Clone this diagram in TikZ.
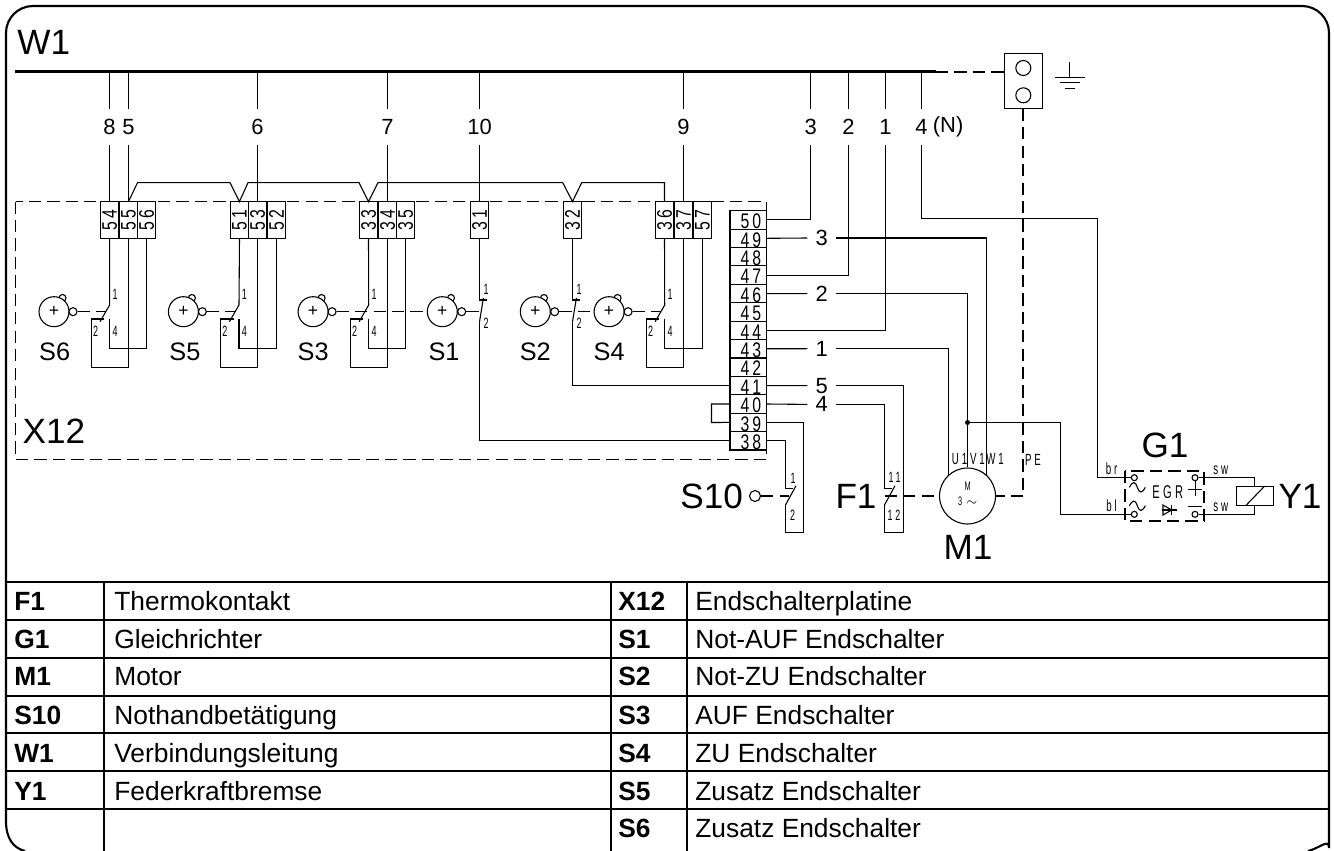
\documentclass[tikz,border=0pt]{standalone}
\usepackage{fontspec}
\setmainfont{Liberation Sans}
\newfontfamily\cadfont[FakeStretch=0.75,LetterSpace=14]{Liberation Sans}
\newfontfamily\narrowfont[FakeStretch=0.6,LetterSpace=18]{Liberation Sans}
\tikzset{
    wire/.style={line width=0.62pt},
    hairdash/.style={line width=0.62pt,dash pattern=on 7pt off 3.5pt},
    thickdash/.style={line width=1pt,dash pattern=on 7pt off 3.5pt},
    frameline/.style={line width=1.2pt},
    tabline/.style={line width=1.1pt},
    bigtext/.style={inner sep=0pt,font=\fontsize{20}{22}\selectfont},
    midtext/.style={inner sep=0pt,font=\fontsize{14.4}{16}\selectfont},
    wirenum/.style={inner sep=0pt,minimum height=0.72cm,font=\fontsize{12.5}{14}\selectfont},
    rownum/.style={inner sep=0pt,minimum width=0.56cm,font=\fontsize{12.5}{14}\selectfont},
    tinytext/.style={inner sep=0pt,font=\fontsize{8.5}{9}\narrowfont},
    cadtext/.style={inner sep=0pt,font=\fontsize{9.2}{11}\narrowfont},
    termv/.style={draw,wire,fill=white,inner sep=0pt,outer sep=0pt,minimum width=0.37cm,minimum height=0.73cm,font=\fontsize{12}{13}\cadfont},
    termh/.style={draw,wire,fill=white,inner sep=0pt,outer sep=0pt,minimum width=0.734cm,minimum height=0.368cm,text height=10pt,text depth=0pt,font=\fontsize{12}{13}\cadfont},
    cam/.style={draw,wire,circle,fill=white,inner sep=0pt,minimum size=0.6cm,font=\fontsize{10}{10}\selectfont},
    campin/.style={draw,wire,circle,fill=white,inner sep=0pt,minimum size=0.16cm},
    tappin/.style={draw,wire,circle,fill=white,inner sep=0pt,minimum size=0.12cm},
    tabkey/.style={inner sep=0pt,anchor=base west,font=\fontsize{15}{17}\bfseries},
    tabtxt/.style={inner sep=0pt,anchor=base west,font=\fontsize{15}{17}\selectfont}
}
\begin{document}
\begin{tikzpicture}[x=0.02cm,y=-0.02cm]
        \useasboundingbox (0,0) rectangle (1334,851);
        %% frame, open at the lower edge
        \draw[frameline] (25,851) .. controls (13,848) and (6,838) .. (6,821)
            [rounded corners=0.54cm] -- (6,6) -- (1329,6) -- (1329,821)
            [sharp corners] .. controls (1329,838) and (1320,848) .. (1308,851);
        %% bus
        \coordinate (bus) at (15,71.7);
        \coordinate (busend) at (936,71.7);
        \draw[line width=1.4pt] (bus) -- (busend);
        \node[bigtext,anchor=west] (W1) at (17,42) {W1};
        %% earth terminal
        \node[draw,wire,inner sep=0pt,outer sep=0pt,minimum width=0.76cm,minimum height=1.11cm] (pe) at (1023.3,81) {};
        \node[draw,wire,circle,inner sep=0pt,minimum size=0.3cm] (pea) at (1023.3,68) {};
        \node[draw,wire,circle,inner sep=0pt,minimum size=0.3cm] (peb) at (1023.3,95.3) {};
        \draw[thickdash] (busend) -- (busend -| pe.west);
        \coordinate (gnd) at (1069.7,77.5);
        \draw[wire] (gnd) -- ++(0,-15);
        \draw[wire] (gnd) ++(-15,0) -- ++(30,0);
        \draw[wire] (gnd) ++(-10,4.7) -- ++(20,0);
        \draw[wire] (gnd) ++(-5,11.2) -- ++(10,0);
        %% X12
        \draw[hairdash] (15.5,201.5) rectangle (766.7,459.3);
        \node[bigtext] (X12) at (54,431) {X12};
        \foreach \n/\x in {54/109.6,55/128.5,56/146.5,51/239.5,53/257.5,52/276.5,33/368.5,34/387.5,35/405.5,31/479.5,32/572.5,36/664.5,37/683.5,57/702.5}
            \node[termv] (t\n) at (\x,219.8) {\rotatebox{90}{\n}};
        \foreach \n [count=\i from 0] in {50,49,48,47,46,45,44,43,42,41,40,39,38} {
            \pgfmathsetmacro{\yy}{219.9+18.41*\i}
            \node[termh] (t\n) at (748.3,\yy) {\kern3pt\n};
        }
        %% bridge over the blocks
        \draw[wire] (t55.north) -- (137.5,182.7) -- (230,182.7) -- (t51.north) -- (248,182.7) -- (359,182.7)
            -- (t33.north) -- (378,182.7) -- (562.7,182.7) -- (t32.north) -- (581.7,182.7) -- (664.5,182.7) -- (t36.north);
        %% leads from the bus
        \foreach \x/\w/\t in {109.6/8/54,128.5/5/55,257.5/6/53,387.5/7/34,479.5/10/31,683.5/9/37} {
            \node[wirenum] (w\w) at (\x,127) {\w};
            \draw[wire] (w\w.north) -- (w\w.north |- bus);
            \draw[wire] (w\w.south) -- (t\t.north);
        }
        \foreach \x/\w/\t in {810.7/3/50,848.5/2/47,885.5/1/44} {
            \node[wirenum] (w\w) at (\x,127) {\w};
            \draw[wire] (w\w.north) -- (w\w.north |- bus);
            \draw[wire] (w\w.south) |- (t\t.east);
        }
        \node[wirenum] (wN) at (921.5,127) {4};
        \node[wirenum,anchor=west] (wNb) at (932.5,127) {(N)};
        \draw[wire] (wN.north) -- (wN.north |- bus);
        %% changeover switches
        \foreach \dx/\sw/\ta/\tb/\tc/\lx in {0/S6/54/55/56/54.7,129.4/S5/51/53/52/55.5,259.1/S3/33/34/35/54,555.1/S4/36/37/57/54} {
            \begin{scope}[xshift=\dx*0.02cm]
                \draw[wire] (62.5,298) circle (3.5);
                \node[cam] (cam\sw) at (54,311.7) {+};
                \node[campin] (pin\sw) at (73,311.7) {};
                \node[midtext] (name\sw) at (\lx,352) {\sw};
                \coordinate (com\sw) at (109.6,305);
                \coordinate (nc\sw) at (104.3,319);
                \coordinate (no\sw) at (109.6,319);
                \coordinate (mid\sw) at (106,311.7);
                \draw[wire] (t\ta.south) -- (com\sw) -- ++(-9.6,16.7);
                \draw[wire] (t\tb.south) |- (91.5,367.5) |- (nc\sw);
                \draw[wire] (t\tc.south) |- (no\sw |- 0,348.5) -- (no\sw);
                \node[tinytext] (one\sw) at (115,294) {1};
                \node[tinytext] (two\sw) at (95.5,331) {2};
                \node[tinytext] (four\sw) at (115,331) {4};
            \end{scope}
        }
        %% break contacts
        \foreach \dx/\sw/\ta/\lx in {0/S1/31/444,93/S2/32/442.3} {
            \begin{scope}[xshift=\dx*0.02cm]
                \draw[wire] (451,298) circle (3.5);
                \node[cam] (cam\sw) at (442.3,311.7) {+};
                \node[campin] (pin\sw) at (461.7,311.7) {};
                \node[midtext] (name\sw) at (\lx,352) {\sw};
                \coordinate (com\sw) at (479.5,300);
                \coordinate (nc\sw) at (479.5,321.7);
                \draw[wire] (t\ta.south) -- (com\sw) -- ++(7.5,0);
                \draw[wire] (483.4,298) -- (nc\sw);
                \node[tinytext] (one\sw) at (486,289) {1};
                \node[tinytext] (two\sw) at (486,323) {2};
            \end{scope}
        }
        \draw[wire] (ncS1) |- (t38.west);
        \draw[wire] (ncS2) |- (t41.west);
        \draw[wire] (t40.west) -| (711.5,422.5) -- (t39.west);
        %% operating links
        \draw[hairdash] (pinS6) -- (midS6);
        \draw[hairdash] (pinS5) -- (midS5);
        \draw[hairdash] (pinS3) -- (camS1);
        \draw[hairdash] (pinS1) -- (479,311.7);
        \draw[hairdash] (pinS2) -- (camS4);
        \draw[hairdash] (pinS4) -- (midS4);
        %% motor
        \node[draw,wire,circle,inner sep=0pt,minimum size=1.12cm] (M) at (967.5,496) {};
        \node[inner sep=0pt,font=\fontsize{7}{8}\narrowfont] (Mm) at (967.7,486) {M};
        \node[inner sep=0pt,font=\fontsize{7}{8}\narrowfont] (Mn) at (967.7,501) {3 $\sim$};
        \node[bigtext] (M1) at (968,547) {M1};
        \node[cadtext] (lu) at (959.5,459) {U1};
        \node[cadtext] (lv) at (977.5,459) {V1};
        \node[cadtext] (lw) at (995,459) {W1};
        \node[cadtext] (lpe) at (1033,460) {PE};
        \node[rownum] (r3) at (821.7,238) {3};
        \node[rownum] (r2) at (821.7,293.6) {2};
        \node[rownum] (r1) at (821.7,348.7) {1};
        \node[rownum] (r5) at (821.7,385.6) {5};
        \node[rownum] (r4) at (821.7,404.4) {4};
        \draw[wire] (t49.east) -- (r3.west);
        \draw[wire] (t46.east) -- (r2.west);
        \draw[wire] (t43.east) -- (r1.west);
        \draw[wire] (t41.east) -- (r5.west);
        \draw[wire] (t40.east) -- (r4.west);
        \draw[wire] (r3.east) -| (M.48);
        \draw[wire] (r2.east) -| (M.north);
        \draw[wire] (r1.east) -| (M.132);
        \draw[thickdash] (pe.south) |- (M.east);
        %% F1
        \node[bigtext] (F1) at (856,496) {F1};
        \coordinate (fa) at (884.5,488.3);
        \coordinate (fb) at (884.5,505);
        \draw[wire] (r4.east) -| (fa) -- ++(7.5,0);
        \draw[wire] (895,485.7) -- (fb);
        \draw[wire] (r5.east) -| (903.5,532.5) -| (fb);
        \draw[thickdash] (884.7,496) -- (M.west);
        \node[tinytext] (fone) at (894.7,477.7) {11};
        \node[tinytext] (ftwo) at (894,515) {12};
        %% S10
        \node[bigtext] (S10) at (711.7,496) {S10};
        \node[draw,wire,circle,inner sep=0pt,minimum size=0.22cm] (pinS10) at (755,496) {};
        \coordinate (sa) at (785.5,488.3);
        \coordinate (sb) at (785.5,505);
        \draw[wire] (t38.east) -| (sa) -- ++(7.5,0);
        \draw[wire] (796,485.7) -- (sb);
        \draw[wire] (t39.east) -| (803.5,532.5) -| (sb);
        \draw[thickdash] (pinS10) -- (789,496);
        \node[tinytext] (sone) at (793,478) {1};
        \node[tinytext] (stwo) at (792.5,515) {2};
        %% rectifier
        \draw[thickdash] (1125,471) rectangle (1204,521.3);
        \node[bigtext] (G1) at (1165,445) {G1};
        \node[tappin] (br) at (1134.3,477.7) {};
        \node[tappin] (bl) at (1134.3,514.3) {};
        \node[tappin] (swa) at (1195,477.7) {};
        \node[tappin] (swb) at (1195,514.3) {};
        \node[cadtext] (lbr) at (1111.7,469) {br};
        \node[cadtext] (lbl) at (1111.5,506) {bl};
        \node[cadtext] (lswa) at (1220.7,470) {sw};
        \node[cadtext] (lswb) at (1220.7,507) {sw};
        \node[inner sep=0pt,font=\fontsize{10.5}{12}\narrowfont] (egr) at (1167.7,492) {EGR};
        \draw[wire] (1129.3,487.3) .. controls (1133,481) and (1135,481) .. (1137.3,487.3) .. controls (1139.5,493.5) and (1142,493.5) .. (1145.3,487.3);
        \draw[wire] (1129.3,505.7) .. controls (1133,499.5) and (1135,499.5) .. (1137.3,505.7) .. controls (1139.5,512) and (1142,512) .. (1145.3,505.7);
        \draw[wire] (1161.7,510) -- (1176.7,510);
        \draw[wire] (1163,505) -- (1171.7,510) -- (1163,515) -- cycle;
        \draw[wire] (1171.7,505) -- (1171.7,515);
        \draw[wire] (1188,489.5) -- (1202,489.5);
        \draw[wire] (1195.5,480.5) -- (1195.5,496);
        \draw[line width=0.8pt] (1188,506.7) -- (1202,506.7);
        %% brake coil
        \node[draw,wire,inner sep=0pt,outer sep=0pt,minimum width=0.74cm,minimum height=0.37cm] (coil) at (1254.8,496) {};
        \draw[wire] (1246,505.3) -- (1264,486.7);
        \node[bigtext] (Y1) at (1300,496.7) {Y1};
        \draw[wire] (swa) -| (coil.north);
        \draw[wire] (swb) -| (coil.south);
        \draw[wire] (wN.south) |- (1097.5,218.5) |- (br);
        \node[fill,circle,inner sep=0pt,minimum size=0.1cm] (jct) at (967.5,422.5) {};
        \draw[wire] (jct.center) -| (1060.5,514.3) -- (bl);
        %% parts list
        \foreach \y in {582,619.7,657.7,696,733,771,808.7}
            \draw[tabline] (6,\y) -- (1329,\y);
        \foreach \x in {104,610.7,686.7}
            \draw[tabline] (\x,582) -- (\x,851);
        \foreach \y/\k/\t in {610/F1/Thermokontakt,648/G1/Gleichrichter,685.7/M1/Motor,724/S10/Nothandbetätigung,762/W1/Verbindungsleitung,800/Y1/Federkraftbremse} {
            \node[tabkey] (key\k) at (14,\y) {\k};
            \node[tabtxt] (txt\k) at (114,\y) {\t};
        }
        \foreach \y/\k/\t in {610/X12/Endschalterplatine,648/S1/Not-AUF Endschalter,685.7/S2/Not-ZU Endschalter,724/S3/AUF Endschalter,762/S4/ZU Endschalter,800/S5/Zusatz Endschalter,837/S6/Zusatz Endschalter} {
            \node[tabkey] (keyb\k) at (618,\y) {\k};
            \node[tabtxt] (txtb\k) at (695,\y) {\t};
        }
\end{tikzpicture}
\end{document}
